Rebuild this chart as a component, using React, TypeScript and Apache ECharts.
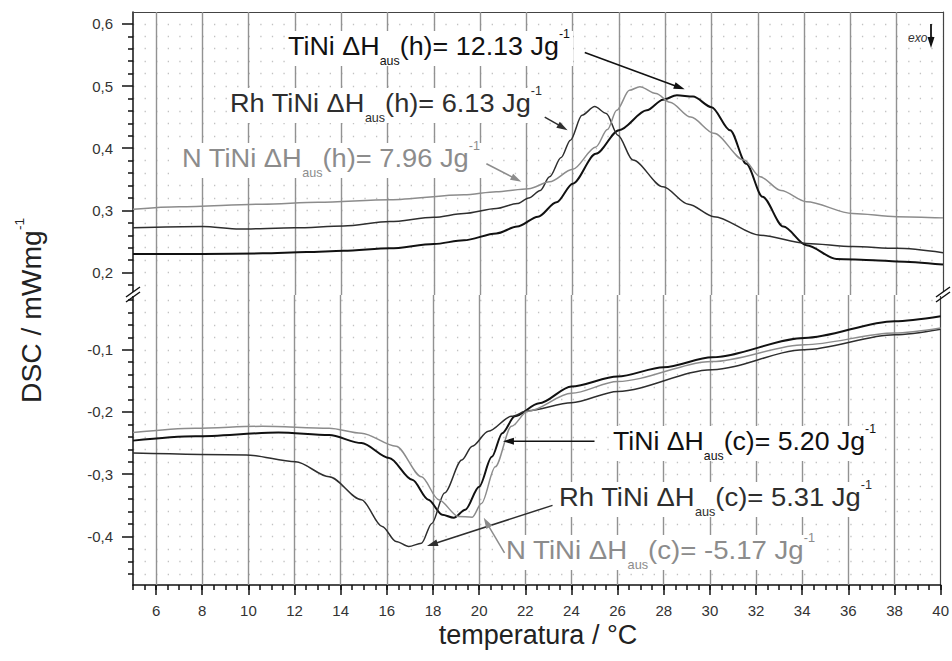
import React, { useEffect, useRef } from "react";
import * as echarts from "echarts";

// ---------- axis ranges (broken DSC axis: heating panel on top, cooling panel below) ----------
const TEMP_MIN = 5;
const TEMP_MAX = 40;
const TEMP_MINOR = 0.5;
const HEAT_MIN = 0.164;
const HEAT_MAX = 0.619;
const COOL_MIN = -0.478;
const COOL_MAX = -0.012;
const DSC_STEP = 0.1;

// tick labels
const tempTicks = [6, 8, 10, 12, 14, 16, 18, 20, 22, 24, 26, 28, 30, 32, 34, 36, 38, 40];
const heatTicks = [0.2, 0.3, 0.4, 0.5, 0.6];
const coolTicks = [-0.4, -0.3, -0.2, -0.1];

// ---------- series: [temperature °C, DSC mW/mg] ----------
const tiniHeating: [number, number][] = [
  [5, 0.23], [8, 0.23], [10.6, 0.231], [12.5, 0.233], [14.1, 0.235], [16.1, 0.239], [18, 0.246],
  [19.3, 0.252], [20.7, 0.263], [21.6, 0.274], [22.5, 0.29], [23.3, 0.313], [24.0, 0.343],
  [25.0, 0.391], [26.0, 0.429], [27.2, 0.461], [27.9, 0.478], [28.5, 0.485], [29.2, 0.483],
  [30.0, 0.466], [30.8, 0.429], [31.5, 0.375], [32.2, 0.322], [33.1, 0.274], [34.1, 0.244],
  [35.4, 0.222], [37, 0.22], [38, 0.218], [40, 0.213],
];
const rhTiniHeating: [number, number][] = [
  [5, 0.272], [8, 0.274], [9.6, 0.27], [12, 0.272], [14.1, 0.275], [16.1, 0.282], [18, 0.289],
  [19.3, 0.295], [20.7, 0.303], [21.6, 0.311], [22.1, 0.32], [22.6, 0.332], [23.0, 0.354],
  [23.5, 0.385], [23.9, 0.413], [24.4, 0.453], [24.95, 0.467], [25.45, 0.456], [25.95, 0.421],
  [26.6, 0.381], [27.9, 0.338], [29, 0.31], [30.1, 0.29], [32.1, 0.26], [34.1, 0.247],
  [36.1, 0.242], [38, 0.239], [40, 0.232],
];
const nTiniHeating: [number, number][] = [
  [5, 0.302], [7, 0.306], [10.6, 0.31], [13, 0.313], [16.1, 0.317], [19.3, 0.325], [20.7, 0.33],
  [22.1, 0.335], [23, 0.346], [24.0, 0.366], [25.0, 0.402], [25.5, 0.43], [25.9, 0.461],
  [26.45, 0.493], [26.9, 0.499], [27.6, 0.488], [28.2, 0.474], [29.1, 0.45], [30.1, 0.424],
  [31.4, 0.381], [32.1, 0.354], [33, 0.332], [34.1, 0.314], [36.1, 0.295], [38, 0.29], [40, 0.288],
];
const tiniCooling: [number, number][] = [
  [5, -0.246], [7.7, -0.239], [11.3, -0.233], [13.5, -0.237], [14.9, -0.25], [16.1, -0.274],
  [17.1, -0.309], [17.8, -0.341], [18.4, -0.365], [18.9, -0.37], [19.4, -0.357], [20.0, -0.32],
  [20.55, -0.272], [21.0, -0.234], [21.55, -0.207], [22.6, -0.186], [24.0, -0.159], [26.0, -0.143],
  [28, -0.128], [30.1, -0.112], [34.1, -0.081], [38, -0.054], [40, -0.046],
];
const rhTiniCooling: [number, number][] = [
  [5, -0.266], [9.9, -0.269], [12.05, -0.28], [13.5, -0.304], [14.9, -0.341], [15.8, -0.384],
  [16.4, -0.408], [16.95, -0.416], [17.5, -0.411], [17.95, -0.379], [18.5, -0.33], [19.25, -0.277],
  [19.7, -0.255], [20.4, -0.231], [21.4, -0.207], [22.1, -0.198], [24.0, -0.185], [26.0, -0.167],
  [30.1, -0.132], [34.1, -0.1], [38, -0.076], [40, -0.067],
];
const nTiniCooling: [number, number][] = [
  [5, -0.233], [7.7, -0.226], [10.6, -0.223], [13.5, -0.226], [14.9, -0.234], [16.4, -0.255],
  [17.5, -0.304], [18.25, -0.341], [19.1, -0.368], [19.7, -0.369], [20.1, -0.347], [20.7, -0.288],
  [21.4, -0.223], [22.1, -0.199], [24.0, -0.17], [26.0, -0.151], [30.1, -0.119], [34.1, -0.092],
  [38, -0.073], [40, -0.065],
];

// ---------- annotation texts ----------
const sampleNames = ["TiNi", "Rh TiNi", "N TiNi"];
const heatingEnthalpies = ["12.13", "6.13", "7.96"];
const coolingEnthalpies = ["5.20", "5.31", "-5.17"];
// arrow tail / tip in data coordinates [T, DSC]
const heatingArrows: [number, number][][] = [
  [[24.52, 0.554], [28.84, 0.4946]],
  [[22.79, 0.45], [23.78, 0.429]],
  [[20.27, 0.375], [21.78, 0.346]],
];
const coolingArrows: [number, number][][] = [
  [[25.0, -0.247], [21.03, -0.247]],
  [[23.18, -0.35], [17.74, -0.4155]],
  [[21.1, -0.4264], [20.2, -0.37]],
];

// ---------- styling / layout ----------
const FONT = '"Liberation Sans", Arial, Helvetica, sans-serif';
const SAMPLE_COLORS = ["#111111", "#2e2e2e", "#8c8c8c"];
const SAMPLE_WIDTHS = [2, 1.5, 1.5];
const GRID_LEFT = 133;
const GRID_WIDTH = 810;
const HEAT_TOP = 12;
const BREAK_Y = 295;
const COOL_BOTTOM = 585;
// label boxes: [left, right, vertical centre]
const heatLabelBoxes = [[288, 570, 46], [230, 542, 103], [182, 480, 158]];
const coolLabelBoxes = [[613, 876, 441], [559, 872, 497], [506, 815, 550]];

const measureCtx =
  typeof document !== "undefined" ? document.createElement("canvas").getContext("2d") : null;
function textWidth(s: string, size: number, style = ""): number {
  if (!measureCtx) return s.length * size * 0.55;
  measureCtx.font = `${style} ${size}px ${FONT}`;
  return measureCtx.measureText(s).width;
}

type Part = { text: string; size: number; dy: number };

function partsGroup(parts: Part[], color: string, z: number, style = "") {
  let x = 0;
  const children = parts.map((p) => {
    const el = {
      type: "text",
      x,
      y: p.dy,
      z,
      style: {
        text: p.text,
        fill: color,
        font: `${style} ${p.size}px ${FONT}`,
        align: "left",
        verticalAlign: "middle",
        textAlign: "left",
        textVerticalAlign: "middle",
      },
    };
    x += textWidth(p.text, p.size, style);
    return el;
  });
  return { children, width: x };
}

function enthalpyParts(name: string, mode: string, value: string): Part[] {
  return [
    { text: `${name} \u0394H`, size: 26, dy: 0 },
    { text: "aus", size: 12, dy: 15 },
    { text: `(${mode})= ${value} Jg`, size: 26, dy: 0 },
    { text: "-1", size: 12, dy: -12 },
  ];
}

function labelElements(parts: Part[], color: string, box: number[]) {
  const [x0, x1, yc] = box;
  const g = partsGroup(parts, color, 21);
  return [
    {
      type: "rect",
      z: 20,
      shape: { x: x0 - 3, y: yc - 15, width: x1 - x0 + 6, height: 35 },
      style: { fill: "#ffffff" },
    },
    { type: "group", x: x0, y: yc, scaleX: (x1 - x0) / g.width, z: 21, children: g.children },
  ];
}

function arrowElements(p0: number[], p1: number[], color: string, z: number, width = 1.5) {
  const dx = p1[0] - p0[0];
  const dy = p1[1] - p0[1];
  const len = Math.hypot(dx, dy) || 1;
  const ux = dx / len;
  const uy = dy / len;
  const hl = 11;
  const hw = 3.5;
  const bx = p1[0] - ux * hl;
  const by = p1[1] - uy * hl;
  return [
    {
      type: "line",
      z,
      shape: { x1: p0[0], y1: p0[1], x2: bx + ux * 2, y2: by + uy * 2 },
      style: { stroke: color, lineWidth: width },
    },
    {
      type: "polygon",
      z,
      shape: { points: [[p1[0], p1[1]], [bx - uy * hw, by + ux * hw], [bx + uy * hw, by - ux * hw]] },
      style: { fill: color },
    },
  ];
}

function isMultiple(v: number, step: number) {
  return Math.abs(v / step - Math.round(v / step)) < 1e-6;
}

function buildOption(): any {
  const dotted = { color: "#c2c2c2", width: 1.3, type: [1.3, 10.27] };
  const xScale = { type: "value", min: TEMP_MIN, max: TEMP_MAX, interval: TEMP_MINOR, splitLine: { show: false } };
  const yLeft = (gridIndex: number, min: number, max: number, ticks: number[]) => ({
    type: "value",
    gridIndex,
    position: "left",
    min,
    max,
    minInterval: DSC_STEP,
    maxInterval: DSC_STEP,
    axisLine: { show: true, onZero: false, lineStyle: { color: "#111", width: 1.5 } },
    axisTick: { show: true, length: 11, customValues: ticks, lineStyle: { color: "#111", width: 1.5 } },
    minorTick: { show: true, splitNumber: 5, length: 5, lineStyle: { color: "#111", width: 1.5 } },
    axisLabel: {
      margin: 20,
      fontSize: 15,
      fontFamily: FONT,
      color: "#333",
      customValues: ticks,
      formatter: (v: number) => (isMultiple(v, DSC_STEP) ? v.toFixed(1).replace(".", ",") : ""),
    },
    splitLine: { show: true, lineStyle: dotted },
    minorSplitLine: { show: true, lineStyle: dotted },
  });
  const yRight = (gridIndex: number, min: number, max: number) => ({
    type: "value",
    gridIndex,
    position: "right",
    min,
    max,
    axisLine: { show: true, onZero: false, lineStyle: { color: "#444", width: 1.2 } },
    axisTick: { show: false },
    axisLabel: { show: false },
    splitLine: { show: false },
  });
  const line = (name: string, data: [number, number][], idx: number, panel: number) => ({
    name,
    type: "line",
    xAxisIndex: panel,
    yAxisIndex: panel,
    data,
    showSymbol: false,
    smooth: 0.3,
    smoothMonotone: "x",
    z: 5,
    lineStyle: { color: SAMPLE_COLORS[idx], width: SAMPLE_WIDTHS[idx] },
  });
  // vertical grid lines every 2 °C, placed through the temperature scale
  const gridLines = (panel: number) => ({
    name: `grid ${panel}`,
    type: "line",
    xAxisIndex: panel,
    yAxisIndex: panel,
    data: [],
    z: 1,
    silent: true,
    markLine: {
      silent: true,
      symbol: ["none", "none"],
      label: { show: false },
      emphasis: { disabled: true },
      lineStyle: { color: "#929292", width: 1.4, type: "solid" },
      data: tempTicks.filter((v) => v < TEMP_MAX).map((v) => ({ xAxis: v })),
    },
  });
  return {
    animation: false,
    backgroundColor: "#ffffff",
    grid: [
      { left: GRID_LEFT, width: GRID_WIDTH, top: HEAT_TOP, height: BREAK_Y - HEAT_TOP },
      { left: GRID_LEFT, width: GRID_WIDTH, top: BREAK_Y, height: COOL_BOTTOM - BREAK_Y },
    ],
    xAxis: [
      {
        ...xScale,
        gridIndex: 0,
        position: "top",
        axisLine: { show: true, onZero: false, lineStyle: { color: "#444", width: 1.2 } },
        axisTick: { show: false },
        axisLabel: { show: false },
      },
      {
        ...xScale,
        gridIndex: 1,
        position: "bottom",
        axisLine: { show: true, onZero: false, lineStyle: { color: "#111", width: 1.5 } },
        axisTick: { show: true, length: 10, customValues: tempTicks, lineStyle: { color: "#111", width: 1.5 } },
        axisLabel: {
          margin: 18,
          fontSize: 15,
          fontFamily: FONT,
          color: "#333",
          customValues: tempTicks,
          formatter: (v: number) => (isMultiple(v, 2) && v > TEMP_MIN ? String(v) : ""),
        },
      },
      {
        // short ticks every 0.5 °C
        ...xScale,
        gridIndex: 1,
        position: "bottom",
        axisLine: { show: false, onZero: false },
        axisTick: { show: true, length: 5, lineStyle: { color: "#111", width: 1.5 } },
        axisLabel: { show: false },
      },
    ],
    yAxis: [
      yLeft(0, HEAT_MIN, HEAT_MAX, heatTicks),
      yLeft(1, COOL_MIN, COOL_MAX, coolTicks),
      yRight(0, HEAT_MIN, HEAT_MAX),
      yRight(1, COOL_MIN, COOL_MAX),
    ],
    series: [
      gridLines(0),
      gridLines(1),
      line("TiNi heating", tiniHeating, 0, 0),
      line("Rh TiNi heating", rhTiniHeating, 1, 0),
      line("N TiNi heating", nTiniHeating, 2, 0),
      line("TiNi cooling", tiniCooling, 0, 1),
      line("Rh TiNi cooling", rhTiniCooling, 1, 1),
      line("N TiNi cooling", nTiniCooling, 2, 1),
    ],
  };
}

function buildGraphics(chart: echarts.ECharts): any[] {
  const els: any[] = [];
  const toPx = (panel: number, p: [number, number]) =>
    chart.convertToPixel({ xAxisIndex: panel, yAxisIndex: panel } as any, p) as unknown as number[];

  sampleNames.forEach((name, i) => {
    els.push(...labelElements(enthalpyParts(name, "h", heatingEnthalpies[i]), SAMPLE_COLORS[i], heatLabelBoxes[i]));
    els.push(...labelElements(enthalpyParts(name, "c", coolingEnthalpies[i]), SAMPLE_COLORS[i], coolLabelBoxes[i]));
    const ha = heatingArrows[i];
    els.push(...arrowElements(toPx(0, ha[0]), toPx(0, ha[1]), SAMPLE_COLORS[i], 22));
    const ca = coolingArrows[i];
    els.push(...arrowElements(toPx(1, ca[0]), toPx(1, ca[1]), SAMPLE_COLORS[i], 22));
  });

  // axis break marks
  const breakMark = (x: number) =>
    [0, 5].map((o) => ({
      type: "line",
      z: 30,
      shape: { x1: x - 7, y1: BREAK_Y + 2 + o, x2: x + 7, y2: BREAK_Y - 8 + o },
      style: { stroke: "#111", lineWidth: 1.5 },
    }));
  [GRID_LEFT, GRID_LEFT + GRID_WIDTH].forEach((x) => {
    els.push({
      type: "rect",
      z: 29,
      shape: { x: x - 3, y: BREAK_Y - 3, width: 6, height: 4 },
      style: { fill: "#fff" },
    });
    els.push(...breakMark(x));
  });

  // exo marker
  els.push({
    type: "text",
    z: 22,
    x: 908,
    y: 38,
    style: {
      text: "exo",
      fill: "#333",
      font: `italic 12px ${FONT}`,
      align: "left",
      verticalAlign: "middle",
      textAlign: "left",
      textVerticalAlign: "middle",
    },
  });
  els.push(...arrowElements([931, 24], [931, 48], "#111", 22, 1.8));

  // y axis title (rotated, with superscript)
  const yt = partsGroup(
    [
      { text: "DSC / mWmg", size: 27, dy: 0 },
      { text: "-1", size: 13, dy: -12 },
    ],
    "#222",
    22
  );
  els.push({
    type: "group",
    x: 32,
    y: 403,
    rotation: Math.PI / 2,
    scaleX: 185 / yt.width,
    z: 22,
    children: yt.children,
  });

  // x axis title
  els.push({
    type: "text",
    z: 22,
    x: 538,
    y: 635,
    style: {
      text: "temperatura / \u00B0C",
      fill: "#222",
      font: `27px ${FONT}`,
      align: "center",
      verticalAlign: "middle",
      textAlign: "center",
      textVerticalAlign: "middle",
    },
  });
  return els;
}

export default function App() {
  const ref = useRef<HTMLDivElement>(null);
  useEffect(() => {
    if (!ref.current) return;
    const chart = echarts.init(ref.current, null, { renderer: "svg" });
    chart.setOption(buildOption());
    chart.setOption({ graphic: buildGraphics(chart) });
    return () => chart.dispose();
  }, []);
  return (
    <div
      ref={ref}
      style={{ position: "fixed", left: 0, top: 0, width: 952, height: 661, background: "#fff" }}
    />
  );
}
